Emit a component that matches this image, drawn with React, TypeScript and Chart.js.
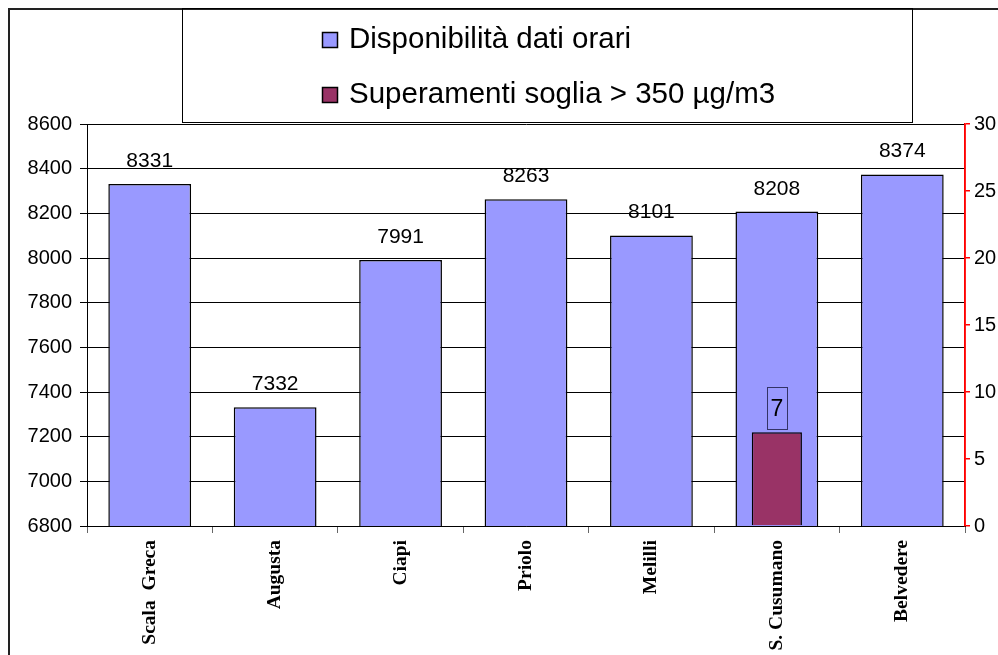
import React, { useEffect, useRef } from "react";
import { Chart, registerables } from "chart.js";

Chart.register(...registerables);

const categories = ["Scala  Greca", "Augusta", "Ciapi", "Priolo", "Melilli", "S. Cusumano", "Belvedere"];
const disponibilita = [8331, 7332, 7991, 8263, 8101, 8208, 8374];
const superamenti: (number | null)[] = [null, null, null, null, null, 7, null];
const legendLabels = ["Disponibilità dati orari", "Superamenti soglia > 350 µg/m3"];
const blue = "#9999FF";
const maroon = "#993366";

const framePlugin = {
  id: "frame",
  afterDraw(chart: any) {
    const ctx = chart.ctx;
    ctx.save();
    ctx.strokeStyle = "#222";
    ctx.lineWidth = 2;
    ctx.beginPath();
    ctx.moveTo(0, 1);
    ctx.lineTo(chart.width, 1);
    ctx.moveTo(1, 0);
    ctx.lineTo(1, chart.height);
    ctx.stroke();
    ctx.lineWidth = 1;
    ctx.strokeStyle = "#000";
    ctx.strokeRect(174.5, 0.5, 730, 114);
    const items = [
      { label: legendLabels[0], color: blue, y: 24 },
      { label: legendLabels[1], color: maroon, y: 79 },
    ];
    ctx.font = "29.5px 'Liberation Sans', Arial, sans-serif";
    ctx.textBaseline = "middle";
    ctx.textAlign = "left";
    for (const it of items) {
      ctx.fillStyle = it.color;
      ctx.fillRect(314, it.y, 16, 16);
      ctx.strokeStyle = "#000";
      ctx.lineWidth = 1.5;
      ctx.strokeRect(314.5, it.y + 0.5, 15, 15);
      ctx.fillStyle = "#000";
      ctx.fillText(it.label, 341, it.y + 8);
    }
    // red right axis line
    const y1 = chart.scales.y1;
    ctx.strokeStyle = "#FF0000";
    ctx.lineWidth = 1.5;
    ctx.beginPath();
    ctx.moveTo(chart.chartArea.right, chart.chartArea.top);
    ctx.lineTo(chart.chartArea.right, chart.chartArea.bottom);
    ctx.stroke();
    ctx.restore();
  },
};

const labelPlugin = {
  id: "valueLabels",
  afterDatasetsDraw(chart: any) {
    const ctx = chart.ctx;
    ctx.save();
    ctx.font = "21px 'Liberation Sans', Arial, sans-serif";
    ctx.textAlign = "center";
    ctx.textBaseline = "alphabetic";
    ctx.fillStyle = "#000";
    const metaBlue = chart.getDatasetMeta(1);
    metaBlue.data.forEach((bar: any, i: number) => {
      const v = disponibilita[i];
      ctx.fillText(String(v), bar.x, bar.y - 17);
    });
    const metaRed = chart.getDatasetMeta(0);
    metaRed.data.forEach((bar: any, i: number) => {
      const v = superamenti[i];
      if (v == null) return;
      const bx = bar.x - 10;
      const by = bar.y - 45;
      ctx.strokeStyle = "#333366";
      ctx.lineWidth = 1;
      ctx.strokeRect(Math.round(bx) + 0.5, Math.round(by) + 0.5, 20, 42);
      ctx.font = "23px 'Liberation Sans', Arial, sans-serif";
      ctx.textBaseline = "middle";
      ctx.fillText(String(v), bar.x, by + 22);
    });
    ctx.restore();
  },
};

export default function App() {
  const ref = useRef<HTMLCanvasElement>(null);
  useEffect(() => {
    if (!ref.current) return;
    const chart = new Chart(ref.current, {
      type: "bar",
      data: {
        labels: categories,
        datasets: [
          {
            label: legendLabels[1],
            data: superamenti,
            backgroundColor: maroon,
            borderColor: "#000",
            borderWidth: 1.5,
            yAxisID: "y1",
            grouped: false,
            categoryPercentage: 1,
            barPercentage: 0.4,
            order: 0,
          } as any,
          {
            label: legendLabels[0],
            data: disponibilita,
            backgroundColor: blue,
            borderColor: "#000",
            borderWidth: 1.5,
            yAxisID: "y",
            grouped: false,
            categoryPercentage: 1,
            barPercentage: 0.66,
            order: 1,
          } as any,
        ],
      },
      options: {
        animation: false,
        responsive: false,
        layout: { padding: { top: 116, left: 0, right: 0, bottom: 0 } },
        plugins: { legend: { display: false }, tooltip: { enabled: false } },
        scales: {
          x: {
            grid: {
              offset: true,
              drawOnChartArea: false,
              drawTicks: true,
              tickLength: 7,
              color: "#666",
            },
            border: { color: "#000", width: 1 },
            ticks: {
              minRotation: 90,
              maxRotation: 90,
              autoSkip: false,
              padding: 7,
              color: "#000",
              font: { family: "'Liberation Serif', 'Times New Roman', serif", size: 19.5, weight: "bold" },
            },
            afterFit(scale: any) {
              scale.height = 129;
            },
          },
          y: {
            position: "left",
            min: 6800,
            max: 8600,
            ticks: {
              stepSize: 200,
              padding: 8,
              color: "#000",
              font: { family: "'Liberation Sans', Arial, sans-serif", size: 20 },
              callback: (v: any) => String(v),
            },
            grid: { color: "#000", lineWidth: 1, tickLength: 7 },
            border: { color: "#000", width: 1 },
            afterFit(scale: any) {
              scale.width = 79;
            },
          },
          y1: {
            position: "right",
            min: 0,
            max: 30,
            ticks: {
              stepSize: 5,
              padding: 4,
              color: "#000",
              font: { family: "'Liberation Sans', Arial, sans-serif", size: 20 },
              callback: (v: any) => String(v),
            },
            grid: { drawOnChartArea: false, color: "#FF0000", tickLength: 5, lineWidth: 1.5 },
            border: { color: "#FF0000", width: 1.5 },
            afterFit(scale: any) {
              scale.width = 33;
            },
          },
        },
      } as any,
      plugins: [framePlugin, labelPlugin],
    });
    return () => chart.destroy();
  }, []);
  return (
    <div style={{ position: "fixed", left: 8, top: 8, width: 990, height: 647, background: "#fff" }}>
      <canvas ref={ref} width={990} height={647} style={{ width: 990, height: 647, display: "block" }} />
    </div>
  );
}
